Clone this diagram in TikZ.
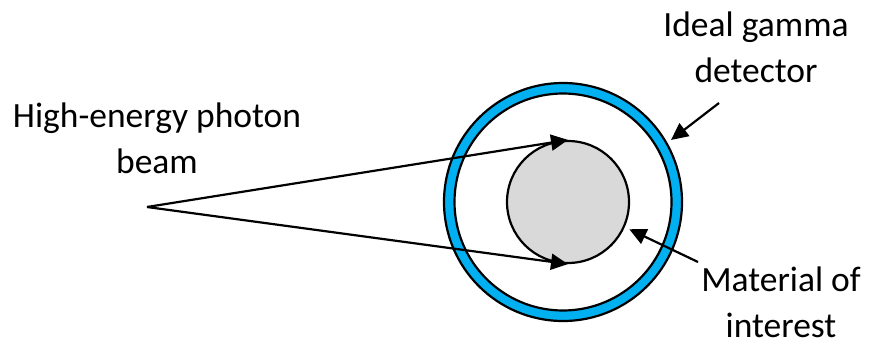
\documentclass[tikz,border=0pt]{standalone}
\usepackage{fontspec}
\setmainfont{Carlito}
\usetikzlibrary{arrows.meta}
\definecolor{ringblue}{HTML}{00B0F0}
\definecolor{matgray}{HTML}{D9D9D9}
\tikzset{
  lbl/.style={align=center, anchor=base, inner sep=0pt, font=\fontsize{35.5}{46}\selectfont},
  beam/.style={line width=2.2pt, -{Triangle[length=17pt,width=16pt]}},
  pointer/.style={line width=2.2pt, -{Triangle[length=17pt,width=16pt]}},
}
\begin{document}
\begin{tikzpicture}[x=1pt,y=-1pt]
\useasboundingbox (0,0) rectangle (869,350);
% detector ring
\node[circle, draw, line width=2.2pt, fill=ringblue, minimum size=238pt, inner sep=0pt] (det) at (563,202) {};
\node[circle, draw, line width=2.2pt, fill=white, minimum size=217pt, inner sep=0pt] (detin) at (563,202) {};
% material
\node[circle, draw, line width=2.2pt, fill=matgray, minimum size=122pt, inner sep=0pt] (mat) at (568,202) {};
% beam
\coordinate (apex) at (147,207);
\draw[beam] (apex) -- (mat.north);
\draw[beam] (apex) -- (mat.south);
% labels (anchor at baseline of last line)
\node[lbl] (beamlbl) at (157,173) {High-energy photon\\beam};
\node[lbl] (detlbl) at (756,83) {Ideal gamma\\detector};
\node[lbl] (matlbl) at (781,337) {Material of\\interest};
% pointers
\coordinate (dettail) at (719,103);
\coordinate (mattail) at (698,262);
\draw[pointer] (dettail) -- ([shift={(4pt,2pt)}]det.30);
\draw[pointer] (mattail) -- ([shift={(5pt,-1pt)}]mat.-25);
\end{tikzpicture}
\end{document}
